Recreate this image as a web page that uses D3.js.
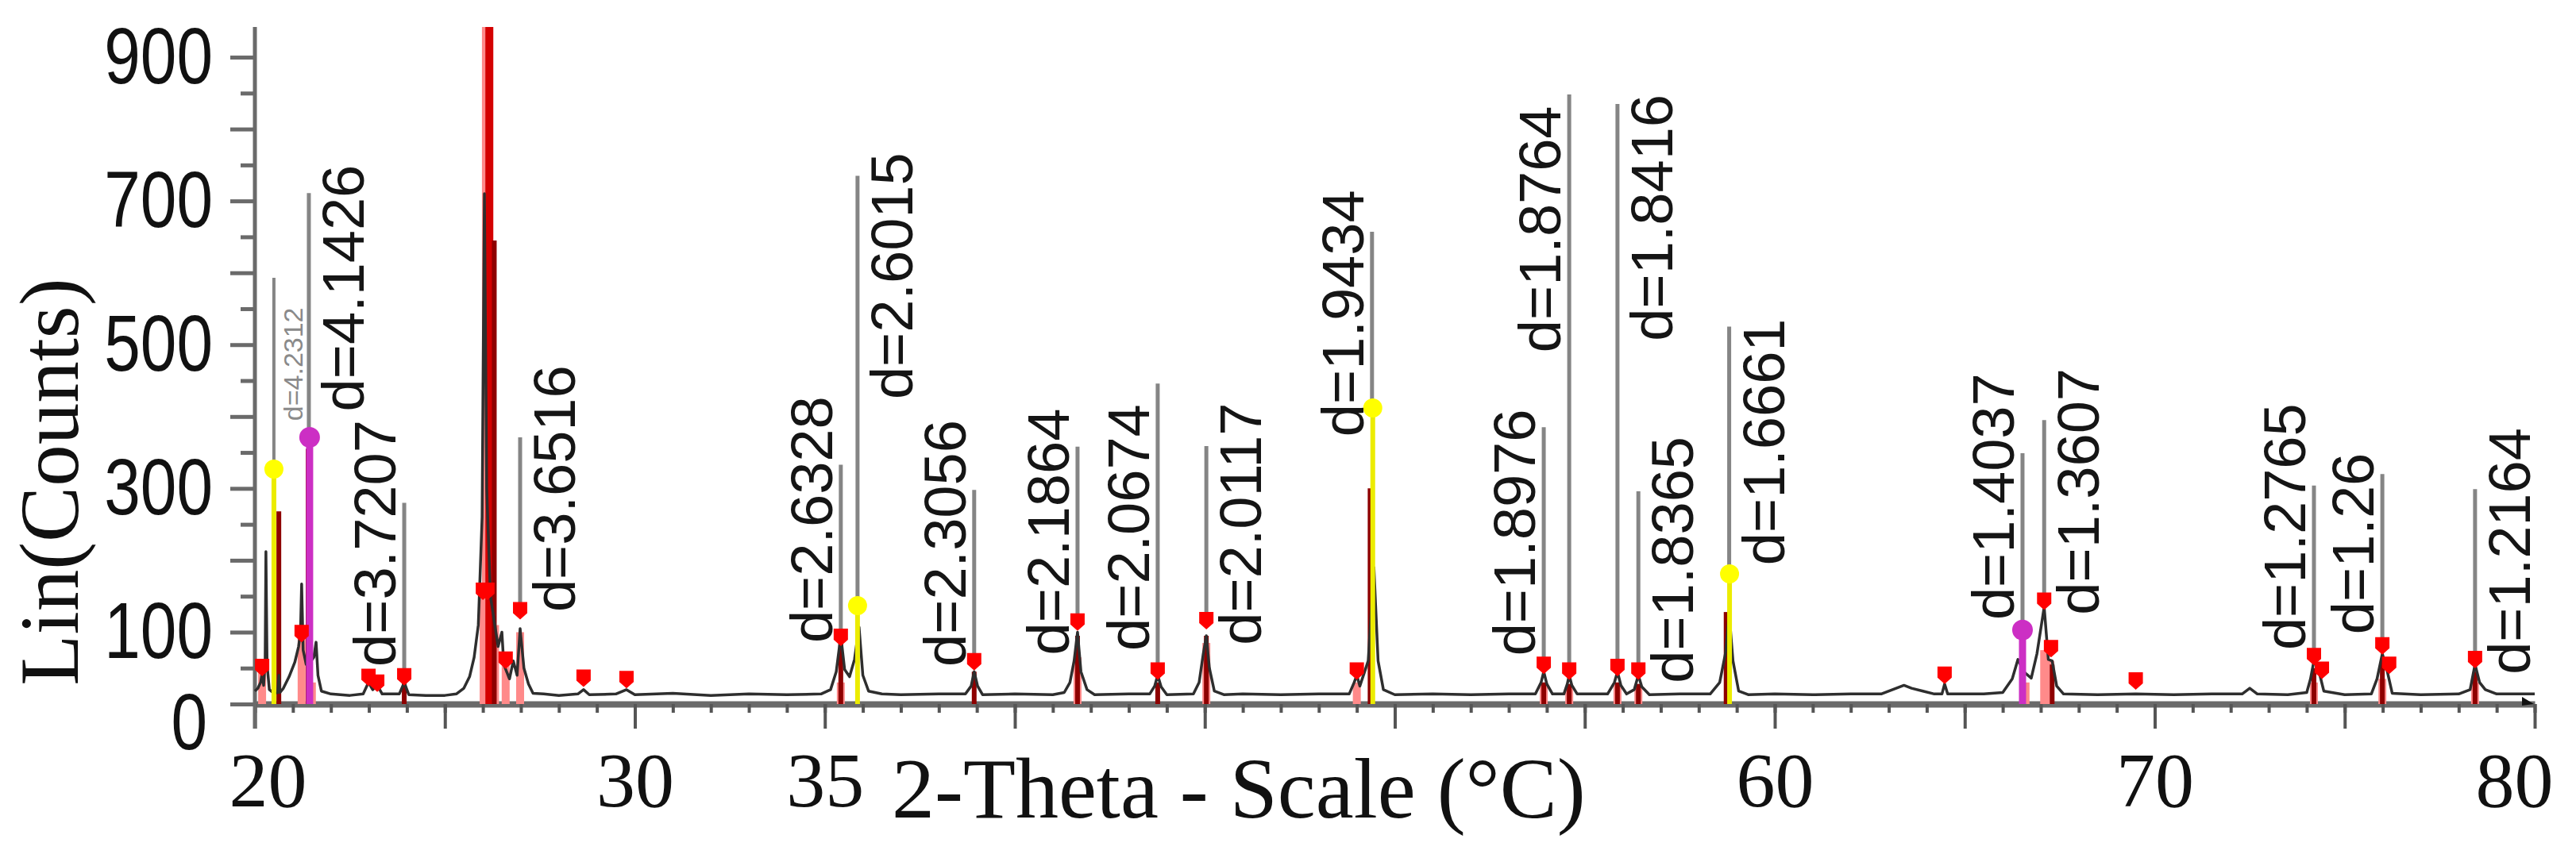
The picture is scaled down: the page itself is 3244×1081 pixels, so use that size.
<!DOCTYPE html>
<html><head><meta charset="utf-8">
<script src="https://cdn.jsdelivr.net/npm/d3@7"></script>
<style>body{margin:0;background:#fff} svg{display:block}</style>
</head><body>
<svg id="chart" width="3244" height="1081"></svg>
<script>
// ---------- DATA ----------
// measured scan [2-theta, counts]
const scan = [[20.0,18],[20.08,22],[20.15,30],[20.19,42],[20.23,26],[20.27,60],[20.29,212],[20.32,55],[20.38,20],[20.5,15],[20.6,16],[20.63,40],[20.66,16],[20.75,22],[20.9,38],[21.05,58],[21.15,80],[21.2,100],[21.23,167],[21.27,75],[21.35,55],[21.45,58],[21.55,65],[21.61,86],[21.66,40],[21.75,18],[22.0,14],[22.5,12],[22.85,14],[22.99,30],[23.1,20],[23.22,26],[23.35,14],[23.8,14],[23.93,30],[24.05,13],[24.5,12],[25.0,12],[25.3,14],[25.5,22],[25.65,38],[25.77,65],[25.88,110],[25.98,260],[26.04,710],[26.1,300],[26.2,150],[26.3,115],[26.4,80],[26.5,100],[26.55,55],[26.7,35],[26.8,60],[26.9,40],[26.98,105],[27.08,50],[27.2,28],[27.32,15],[27.6,14],[28.0,12],[28.5,14],[28.65,20],[28.8,13],[29.5,14],[29.78,20],[30.0,13],[31.0,15],[32.0,12],[33.0,14],[34.0,13],[34.9,14],[35.15,20],[35.3,45],[35.42,95],[35.52,48],[35.65,38],[35.78,62],[35.9,107],[36.0,40],[36.15,18],[36.5,14],[37.0,13],[38.0,14],[38.7,14],[38.85,25],[38.93,45],[39.02,25],[39.15,13],[40.0,14],[41.0,13],[41.3,16],[41.45,30],[41.56,60],[41.65,100],[41.74,45],[41.9,20],[42.1,13],[43.0,14],[43.55,14],[43.68,25],[43.76,40],[43.85,24],[44.0,13],[44.7,14],[44.85,30],[44.96,70],[45.04,95],[45.12,50],[45.25,18],[45.5,13],[46.0,14],[47.0,13],[48.0,14],[48.8,14],[48.93,30],[49.0,40],[49.08,25],[49.3,60],[49.45,190],[49.56,60],[49.7,20],[50.0,13],[51.0,14],[52.0,13],[53.0,14],[53.7,14],[53.85,30],[53.92,45],[54.0,28],[54.15,14],[54.45,14],[54.54,28],[54.59,40],[54.66,26],[54.8,14],[55.6,14],[55.78,30],[55.86,45],[55.95,26],[56.1,14],[56.3,20],[56.41,40],[56.5,24],[56.7,13],[57.5,14],[58.3,14],[58.55,30],[58.7,70],[58.8,125],[58.9,60],[59.05,18],[59.3,13],[60.0,14],[61.0,13],[62.0,14],[62.8,14],[63.1,20],[63.4,26],[63.6,22],[63.9,18],[64.2,14],[64.4,14],[64.47,28],[64.55,14],[65.5,14],[66.0,16],[66.25,35],[66.4,62],[66.55,45],[66.75,36],[66.9,70],[67.09,135],[67.2,62],[67.3,60],[67.42,25],[67.6,14],[68.5,13],[69.5,14],[70.5,13],[71.5,14],[72.3,14],[72.5,22],[72.7,14],[73.5,13],[74.0,16],[74.1,35],[74.19,60],[74.3,50],[74.45,18],[75.0,13],[75.7,14],[75.85,35],[75.99,70],[76.1,50],[76.25,15],[77.0,13],[78.0,14],[78.3,20],[78.43,55],[78.55,30],[78.7,20],[79.0,14],[80.0,14]];

// reference pattern sticks [2-theta, counts]
const pinkSticks = [[20.19,45],[21.23,95],[21.5,30],[26.02,158],[26.08,942],[26.32,110],[26.6,60],[26.98,100],[35.42,30],[41.65,65],[45.04,85],[49.0,30],[53.92,30],[54.59,25],[55.86,30],[56.41,25],[66.6,30],[67.09,75],[67.25,60],[74.19,30],[75.99,35],[78.43,30]];
const redSticks = [[26.17,942]];
const darkSticks = [[20.63,268],[21.40,355],[23.93,30],[26.3,645],[35.42,95],[38.93,45],[41.65,95],[43.76,30],[45.04,95],[49.35,300],[53.92,30],[54.59,28],[55.86,30],[56.41,28],[58.72,128],[67.3,55],[74.19,50],[75.99,60],[78.43,45]];
const yellowSticks = [[20.50,327],[35.86,137],[49.42,412],[58.81,181]];
const magentaSticks = [[21.44,371],[66.52,103]];

// peak-search marks [2-theta, counts]
const peakMarks = [[20.19,52],[21.23,99],[22.99,38],[23.22,30],[23.93,39],[26.0,158],[26.12,158],[26.6,62],[26.98,131],[28.65,37],[29.78,35],[35.42,94],[38.93,60],[41.65,115],[43.76,47],[45.04,117],[49.0,47],[53.92,55],[54.59,47],[55.86,52],[56.41,47],[64.47,41],[67.09,144],[67.27,78],[69.5,33],[74.19,67],[74.4,48],[75.99,82],[76.17,55],[78.43,63]];

// d-spacing labels
const labelText  = ["d=4.1426","d=3.7207","d=3.6516","d=2.6328","d=2.6015","d=2.3056","d=2.1864","d=2.0674","d=2.0117","d=1.9434","d=1.8976","d=1.8764","d=1.8416","d=1.8365","d=1.6661","d=1.4037","d=1.3607","d=1.2765","d=1.26","d=1.2164"];
const labelPos   = [21.42,23.93,26.98,35.42,35.86,38.93,41.65,43.76,45.04,49.40,53.92,54.59,55.86,56.41,58.80,66.52,67.09,74.19,75.99,78.43];
const labelBase  = [371,39,131,94,137,60,115,47,117,412,55,47,52,47,181,103,144,67,82,63];
const labelTop   = [711,280,371,333,735,298,358,446,359,657,385,848,835,296,525,349,395,304,320,299];
const labelStart = [407,52,128,85,424,52,68,74,82,372,67,489,505,29,193,117,124,75,97,41];
const labelSide  = ["R","L","R","L","R","L","L","L","R","L","L","L","R","R","R","L","R","L","L","R"];
// small grey label
const smallLabel = {text:"d=4.2312", pos:20.50, base:327, top:593, start:394};

const yTickLabels = [0,100,300,500,700,900];
const xTickLabels = [20,30,35,60,70,80];

// ---------- DRAWING ----------
const svg = d3.select("#chart");
const x = d3.scaleLinear().domain([20,80]).range([321,3192]);
const y = d3.scaleLinear().domain([0,942]).range([887,34]);
const AX = "#6a6a6a";

// x axis
const gxMinor = svg.append("g").attr("transform",`translate(0,${y(0)})`)
  .call(d3.axisBottom(x).tickValues(d3.range(20,81,1)).tickSize(11).tickSizeOuter(0).tickFormat(""));
gxMinor.select(".domain").attr("stroke",AX).attr("stroke-width",8);
gxMinor.selectAll(".tick line").attr("stroke","#555").attr("stroke-width",4);

const gxMajor = svg.append("g").attr("transform",`translate(0,${y(0)})`)
  .call(d3.axisBottom(x).tickValues(d3.range(20,81,5)).tickSize(31).tickSizeOuter(0)
    .tickFormat(d => xTickLabels.includes(d) ? d : ""));
gxMajor.select(".domain").remove();
gxMajor.selectAll(".tick line").attr("stroke","#555").attr("stroke-width",4);
gxMajor.selectAll(".tick text")
  .attr("font-family","'Liberation Serif','Times New Roman',serif").attr("font-size",98)
  .attr("fill","#111").attr("y",129).attr("dy",0)
  .attr("x", d => d===20 ? 16 : (d===80 ? -26 : 0));

// axis arrow
svg.append("path").attr("d",`M${x(80)-16},${y(0)-9} L${x(80)-1},${y(0)} L${x(80)-16},${y(0)+2} Z`).attr("fill","#111");

// y axis
const gyMinor = svg.append("g").attr("transform",`translate(${x(20)},0)`)
  .call(d3.axisLeft(y).tickValues(d3.range(50,901,100)).tickSize(18).tickSizeOuter(0).tickFormat(""));
gyMinor.select(".domain").remove();
gyMinor.selectAll(".tick line").attr("stroke",AX).attr("stroke-width",5);

const gyMajor = svg.append("g").attr("transform",`translate(${x(20)},0)`)
  .call(d3.axisLeft(y).tickValues(d3.range(0,901,100)).tickSize(31).tickSizeOuter(0)
    .tickFormat(d => yTickLabels.includes(d) ? d : ""));
gyMajor.select(".domain").remove();
gyMajor.selectAll(".tick line").attr("stroke",AX).attr("stroke-width",5);
gyMajor.selectAll(".tick text")
  .attr("font-family","'Liberation Sans',Arial,sans-serif").attr("font-size",100).attr("fill","#111")
  .attr("x",0).attr("dy","0.32em")
  .attr("transform", d => d===0 ? "translate(-60,24) scale(0.82,1)" : "translate(-53,0) scale(0.82,1)");
svg.append("line").attr("x1",x(20)).attr("x2",x(20)).attr("y1",y(0)+31).attr("y2",y(942))
  .attr("stroke",AX).attr("stroke-width",5);

// sticks
const sticks = (data, color, w) => svg.append("g").selectAll("line").data(data).join("line")
  .attr("x1",d=>x(d[0])).attr("x2",d=>x(d[0])).attr("y1",y(0)).attr("y2",d=>y(d[1]))
  .attr("stroke",color).attr("stroke-width",w);
sticks(pinkSticks,"#ff8a8a",10);
sticks(redSticks,"#d40000",10);
sticks(darkSticks,"#8e0000",6);

// measured scan
svg.append("path").datum(scan)
  .attr("d", d3.line().x(d=>x(d[0])).y(d=>y(d[1])))
  .attr("fill","none").attr("stroke","#2e2e2e").attr("stroke-width",3.5).attr("stroke-linejoin","round");

sticks(yellowSticks,"#ecec00",6);
sticks(magentaSticks,"#cc2fc4",9);

// leaders
const lead = svg.append("g").attr("stroke","#858585").attr("stroke-width",5);
labelText.forEach((t,i)=>{
  lead.append("line").attr("x1",x(labelPos[i])).attr("x2",x(labelPos[i]))
    .attr("y1",y(labelBase[i])).attr("y2",y(labelTop[i]));
});
lead.append("line").attr("x1",x(smallLabel.pos)).attr("x2",x(smallLabel.pos))
  .attr("y1",y(smallLabel.base)).attr("y2",y(smallLabel.top)).attr("stroke-width",4);

// peak marks
svg.append("g").selectAll("path").data(peakMarks).join("path")
  .attr("d", d => { const cx=x(d[0]), cy=y(d[1]);
     return `M${cx-9},${cy-10} H${cx+9} V${cy+4} L${cx},${cy+12} L${cx-9},${cy+4} Z`; })
  .attr("fill","#ff0000");

// circle marks
svg.append("g").selectAll("circle").data(yellowSticks).join("circle")
  .attr("cx",d=>x(d[0])).attr("cy",d=>y(d[1])).attr("r",12).attr("fill","#ffff00");
svg.append("g").selectAll("circle").data(magentaSticks).join("circle")
  .attr("cx",d=>x(d[0])).attr("cy",d=>y(d[1])).attr("r",13).attr("fill","#cc2fc4");

// labels
const lab = svg.append("g").attr("font-family","'Liberation Sans',Arial,sans-serif")
  .attr("font-size",74).attr("fill","#151515");
labelText.forEach((t,i)=>{
  const lx = x(labelPos[i]);
  const bx = labelSide[i]==="R" ? lx+69 : lx-11;
  lab.append("text").attr("transform",`translate(${bx},${y(labelStart[i])}) rotate(-90)`).text(t);
});
svg.append("text").attr("font-family","'Liberation Sans',Arial,sans-serif").attr("font-size",34).attr("fill","#8a8a8a")
  .attr("transform",`translate(${x(smallLabel.pos)+36},${y(smallLabel.start)}) rotate(-90)`).text(smallLabel.text);

// axis titles
svg.append("text").attr("font-family","'Liberation Serif','Times New Roman',serif").attr("font-size",105)
  .attr("fill","#111").attr("text-anchor","middle")
  .attr("transform","translate(98,607) rotate(-90)").text("Lin(Counts)");
svg.append("text").attr("font-family","'Liberation Serif','Times New Roman',serif").attr("font-size",108)
  .attr("fill","#111").attr("x",1123).attr("y",1030).text("2-Theta - Scale (°C)");
</script>
</body></html>
